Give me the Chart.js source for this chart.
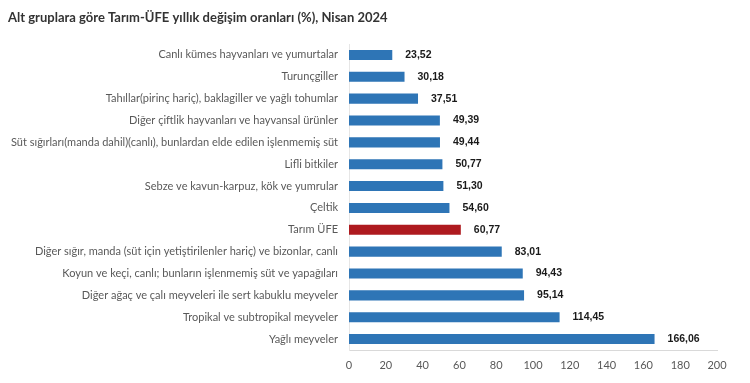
<!DOCTYPE html>
<html><head><meta charset="utf-8">
<script src="https://cdn.jsdelivr.net/npm/chart.js@4/dist/chart.umd.min.js"></script>
<style>html,body{margin:0;padding:0;background:#fff}#w{width:750px;height:383px}</style>
</head><body><div id="w"><canvas id="c"></canvas></div>
<script>
const categories = [
  "Canlı kümes hayvanları ve yumurtalar",
  "Turunçgiller",
  "Tahıllar(pirinç hariç), baklagiller ve yağlı tohumlar",
  "Diğer çiftlik hayvanları ve hayvansal ürünler",
  "Süt sığırları(manda dahil)(canlı), bunlardan elde edilen işlenmemiş süt",
  "Lifli bitkiler",
  "Sebze ve kavun-karpuz, kök ve yumrular",
  "Çeltik",
  "Tarım ÜFE",
  "Diğer sığır, manda (süt için yetiştirilenler hariç) ve bizonlar, canlı",
  "Koyun ve keçi, canlı; bunların işlenmemiş süt ve yapağıları",
  "Diğer ağaç ve çalı meyveleri ile sert kabuklu meyveler",
  "Tropikal ve subtropikal meyveler",
  "Yağlı meyveler"
];
const values = [23.52, 30.18, 37.51, 49.39, 49.44, 50.77, 51.30, 54.60, 60.77, 83.01, 94.43, 95.14, 114.45, 166.06];
const highlight = "Tarım ÜFE";
const xTicks = [0, 20, 40, 60, 80, 100, 120, 140, 160, 180, 200];
const titleText = "Alt gruplara göre Tarım-ÜFE yıllık değişim oranları (%), Nisan 2024";

const FONT = "Lato, 'Open Sans', sans-serif";
const colors = categories.map(c => c === highlight ? "#AE1A1F" : "#2E75B6");

const labelPlugin = {
  id: 'lbl',
  afterDatasetsDraw(chart) {
    const ctx = chart.ctx;
    const meta = chart.getDatasetMeta(0);
    ctx.save();
    ctx.font = "bold 10.5px 'Liberation Sans', Arial, sans-serif";
    ctx.fillStyle = "#1a1a1a";
    ctx.textAlign = "left";
    ctx.textBaseline = "middle";
    meta.data.forEach((el, i) => {
      ctx.fillText(values[i].toFixed(2).replace('.', ','), el.x + 13, el.y);
    });
    ctx.restore();
  },
  afterDraw(chart) {
    const ctx = chart.ctx;
    ctx.save();
    ctx.font = "bold 13px " + FONT;
    ctx.fillStyle = "#333333";
    ctx.textAlign = "left";
    ctx.textBaseline = "middle";
    ctx.fillText(titleText, 8, 18);
    ctx.restore();
  }
};

new Chart(document.getElementById('c'), {
  type: 'bar',
  data: {
    labels: categories,
    datasets: [{ data: values, backgroundColor: colors, barPercentage: 0.46, categoryPercentage: 1.0 }]
  },
  options: {
    indexAxis: 'y',
    responsive: true,
    maintainAspectRatio: false,
    animation: false,
    layout: { padding: { top: 44, right: 33, bottom: 0, left: 0 } },
    plugins: { legend: { display: false }, tooltip: { enabled: false }, title: { display: false } },
    scales: {
      x: {
        min: 0, max: 200,
        afterBuildTicks(s) { s.ticks = xTicks.map(v => ({ value: v })); },
        afterFit(s) { s.height = 33; },
        grid: { display: false, drawTicks: false },
        border: { display: true, color: '#d9d9d9' },
        ticks: { padding: 9, color: '#595959', font: { family: FONT, size: 11 } }
      },
      y: {
        afterFit(s) { s.width = 349; },
        grid: { display: false, drawTicks: false },
        border: { display: true, color: '#e6e6e6' },
        ticks: { padding: 11, color: '#595959', font: { family: FONT, size: 11 } }
      }
    }
  },
  plugins: [labelPlugin]
});
</script></body></html>
